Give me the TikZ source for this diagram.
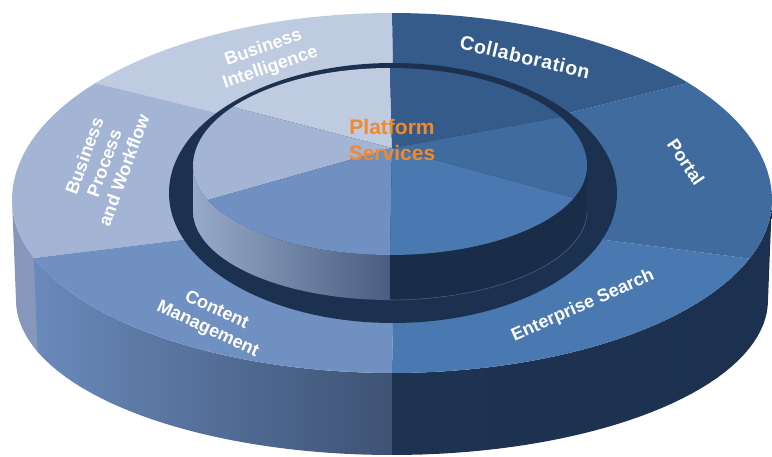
\documentclass[tikz,border=0pt]{standalone}
\usepackage{fontspec}
\setmainfont{Liberation Sans}
\definecolor{cBI}{HTML}{BFCBE0}
\definecolor{cBP}{HTML}{A3B4D4}
\definecolor{cCM}{HTML}{7090C2}
\definecolor{cES}{HTML}{4A79B1}
\definecolor{cPO}{HTML}{3F6B9F}
\definecolor{cCO}{HTML}{355B8A}
\definecolor{cRing}{HTML}{1C3150}
\definecolor{cOr}{HTML}{F08A2C}
\definecolor{wBP}{HTML}{8797BC}
\definecolor{wCMa}{HTML}{6A8ABB}
\definecolor{wCMb}{HTML}{3E5274}
\definecolor{wES}{HTML}{1E3352}
\definecolor{iWa}{HTML}{97AACB}
\definecolor{iWb}{HTML}{485D80}
\begin{document}
\begin{tikzpicture}[x=1pt,y=-1pt,
  declare function={
    ox(\t)=392+380*cos(\t);
    oy(\t)=200+ifthenelse(sin(\t)<0,187,173)*sin(\t);
    bx(\t)=392+376*cos(\t);
    by(\t)=300+155*sin(\t);
    rx(\t)=393+224*cos(\t);
    ry(\t)=193+130*sin(\t);
    ix(\t)=390+197*cos(\t);
    iy(\t)=166+ifthenelse(sin(\t)<0,98,89)*sin(\t);
    jy(\t)=iy(\t)+45;
  },
  lbl/.style={text=white,font=\bfseries\fontsize{18}{21}\selectfont,align=center,inner sep=0pt},
  ctr/.style={text=cOr,font=\bfseries\fontsize{21}{26}\selectfont,align=center,inner sep=0pt}]
\useasboundingbox (0,0) rectangle (772,457);
% outer side wall
\fill[wBP] plot[domain=160:180,samples=20] ({ox(\x)},{oy(\x)})
  -- plot[domain=180:160,samples=20] ({bx(\x)},{by(\x)}) -- cycle;
\shade[left color=wCMa,right color=wCMb] plot[domain=90:160.5,samples=40] ({ox(\x)},{oy(\x)})
  -- plot[domain=160.5:90,samples=40] ({bx(\x)},{by(\x)}) -- cycle;
\shade[left color=wES,right color=cRing] plot[domain=0:90,samples=40] ({ox(\x)},{oy(\x)})
  -- plot[domain=90:0,samples=40] ({bx(\x)},{by(\x)}) -- cycle;
% outer top sectors
\coordinate (oc) at (393,193);
\fill[cBI] plot[domain=218.7:270,samples=30] ({ox(\x)},{oy(\x)})
  -- ({rx(270)},{ry(270)}) -- (oc) -- ({rx(218)},{ry(218)}) -- cycle;
\fill[cBP] plot[domain=160.4:218.7,samples=30] ({ox(\x)},{oy(\x)})
  -- ({rx(218)},{ry(218)}) -- (oc) -- ({rx(159)},{ry(159)}) -- cycle;
\fill[cCM] plot[domain=90:160.4,samples=40] ({ox(\x)},{oy(\x)})
  -- ({rx(159)},{ry(159)}) -- (oc) -- ({rx(90)},{ry(90)}) -- cycle;
\fill[cES] plot[domain=19.8:90,samples=40] ({ox(\x)},{oy(\x)})
  -- ({rx(90)},{ry(90)}) -- (oc) -- ({rx(21)},{ry(21)}) -- cycle;
\fill[cPO] plot[domain=-38.8:19.8,samples=30] ({ox(\x)},{oy(\x)})
  -- ({rx(21)},{ry(21)}) -- (oc) -- ({rx(-38)},{ry(-38)}) -- cycle;
\fill[cCO] plot[domain=270:321.2,samples=30] ({ox(\x)},{oy(\x)})
  -- ({rx(322)},{ry(322)}) -- (oc) -- ({rx(270)},{ry(270)}) -- cycle;
% groove ring
\fill[cRing] (oc) ellipse [x radius=224, y radius=130];
% inner cylinder wall
\shade[left color=iWa,right color=iWb] plot[domain=90:180,samples=40] ({ix(\x)},{iy(\x)})
  -- plot[domain=180:90,samples=40] ({ix(\x)},{jy(\x)}) -- cycle;
\fill[cRing!90!black] plot[domain=0:90,samples=40] ({ix(\x)},{iy(\x)})
  -- plot[domain=90:0,samples=40] ({ix(\x)},{jy(\x)}) -- cycle;
\draw[iWb,line width=0.6] plot[domain=0:90,samples=40] ({ix(\x)},{jy(\x)});
% inner top sectors
\coordinate (ic) at (392,148);
\fill[cBI] plot[domain=217:270,samples=30] ({ix(\x)},{iy(\x)}) -- (ic) -- cycle;
\fill[cBP] plot[domain=157.5:217,samples=30] ({ix(\x)},{iy(\x)}) -- (ic) -- cycle;
\fill[cCM] plot[domain=90:157.5,samples=40] ({ix(\x)},{iy(\x)}) -- (ic) -- cycle;
\fill[cES] plot[domain=21:90,samples=40] ({ix(\x)},{iy(\x)}) -- (ic) -- cycle;
\fill[cPO] plot[domain=-30:21,samples=30] ({ix(\x)},{iy(\x)}) -- (ic) -- cycle;
\fill[cCO] plot[domain=270:330,samples=30] ({ix(\x)},{iy(\x)}) -- (ic) -- cycle;
% labels
\node[lbl,rotate=19] (bi) at (267,58) {Business\\Intelligence};
\node[lbl,rotate=-13,font=\bfseries\fontsize{19.5}{22}\selectfont\addfontfeature{LetterSpace=3}] (co) at (525,57) {Collaboration};
\node[lbl,rotate=-56] (po) at (686,162) {Portal};
\node[lbl,rotate=70] (bp) at (104,163) {Business\\Process\\and Workflow};
\node[lbl,rotate=-25] (cm) at (212,320) {Content\\Management};
\node[lbl,rotate=24] (es) at (583,306) {Enterprise Search};
\node[ctr] (ps) at (392,140) {Platform\\Services};
\end{tikzpicture}
\end{document}
